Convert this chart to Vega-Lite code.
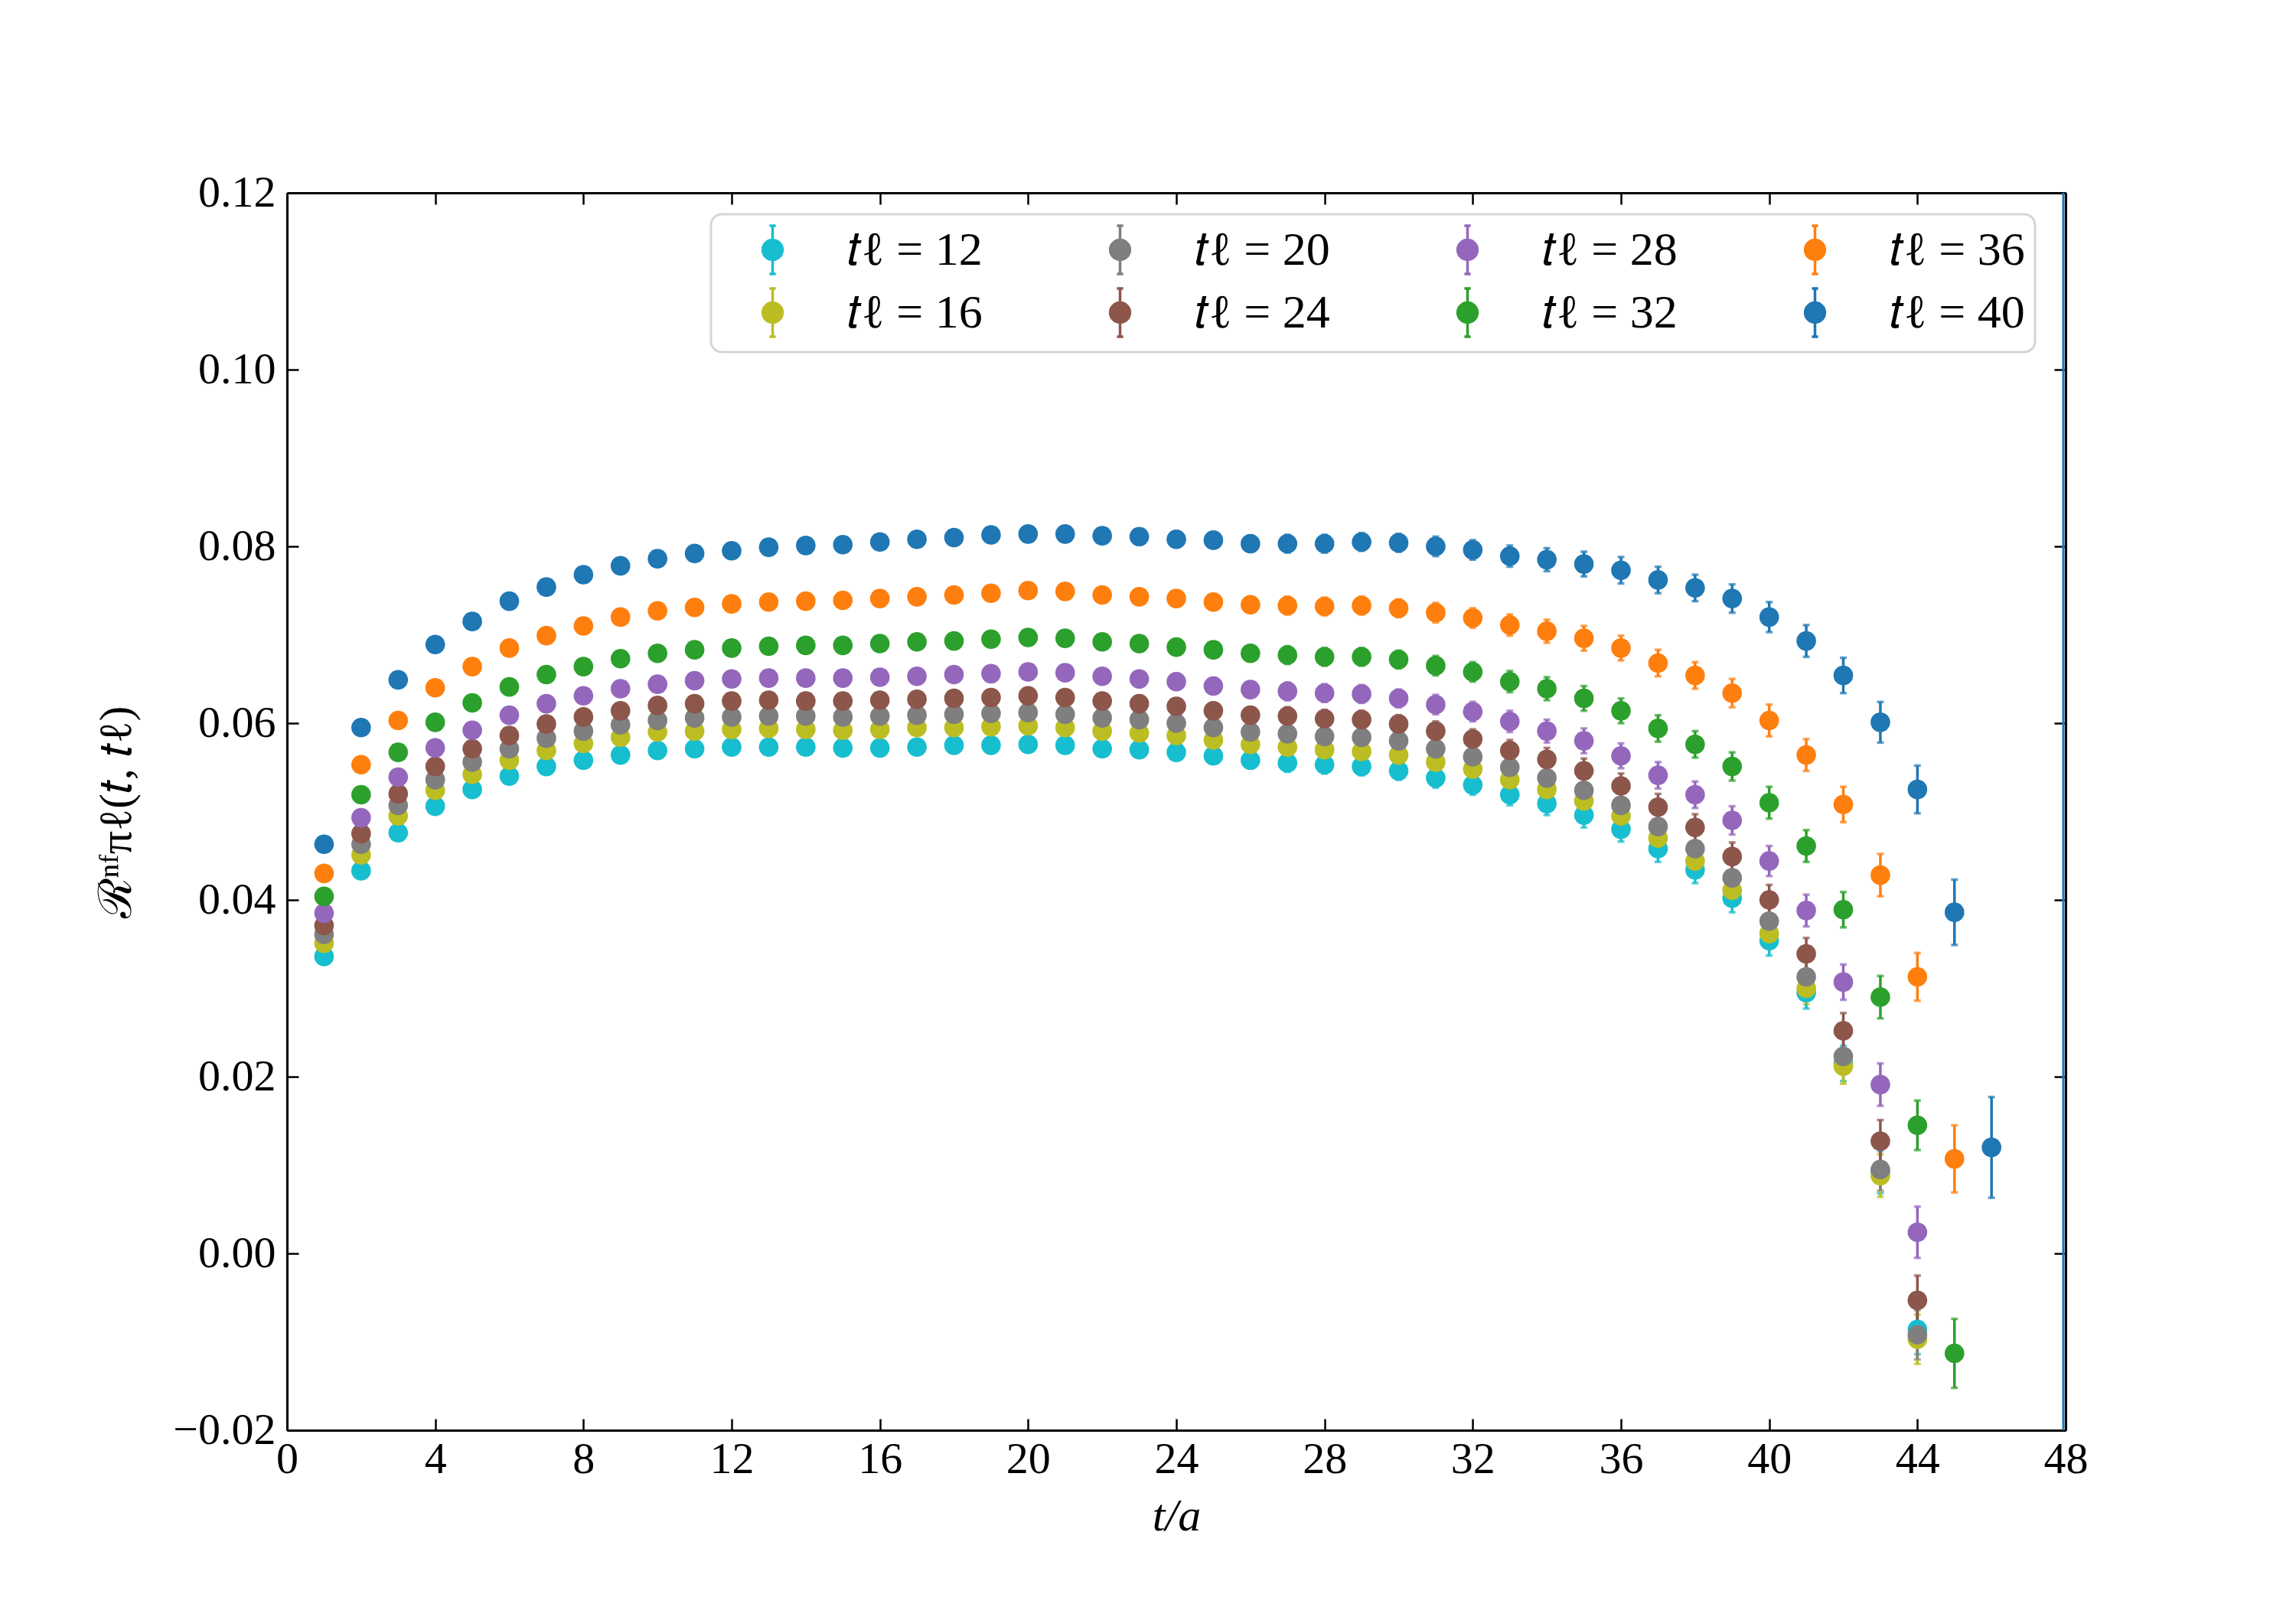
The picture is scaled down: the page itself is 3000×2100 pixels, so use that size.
{
  "$schema": "https://vega.github.io/schema/vega-lite/v6.json",
  "width": 2324,
  "height": 1617,
  "autosize": "none",
  "padding": {"left": 375, "top": 252, "right": 301, "bottom": 231},
  "background": "white",
  "config": {
    "view": {"stroke": null},
    "font": "Liberation Serif",
    "axis": {
      "domainColor": "black", "domainWidth": 3,
      "tickColor": "black", "tickWidth": 2.5, "tickSize": -15,
      "labelFont": "Liberation Serif", "labelFontSize": 58, "labelColor": "black", "labelFlush": false,
      "titleFont": "Liberation Serif", "titleFontSize": 60, "titleFontWeight": "normal", "titleColor": "black",
      "grid": false, "zindex": 1
    },
    "legend": {
      "orient": "none", "legendX": 554, "legendY": 28,
      "columns": 4, "padding": 13, "symbolOffset": 34, "labelOffset": 64,
      "columnPadding": 112, "rowPadding": 5, "labelLimit": 0,
      "labelFont": "Liberation Serif", "labelFontSize": 62, "labelColor": "black",
      "symbolSize": 3969,
      "symbolType": "M0,-1L0,1M-0.13,-1L0.13,-1M-0.13,1L0.13,1M0.41,0A0.41,0.41,0,1,1,-0.41,0A0.41,0.41,0,1,1,0.41,0Z",
      "strokeColor": "#d6d6d6", "strokeWidth": 3, "fillColor": "white", "cornerRadius": 14
    }
  },
  "data": {"values": [
    {"s":"12","t":1,"v":0.0336,"e":0.0002},{"s":"12","t":2,"v":0.0433,"e":0.0003},{"s":"12","t":3,"v":0.0476,"e":0.0003},{"s":"12","t":4,"v":0.0506,"e":0.0004},{"s":"12","t":5,"v":0.0525,"e":0.0004},{"s":"12","t":6,"v":0.0540,"e":0.0004},{"s":"12","t":7,"v":0.0551,"e":0.0005},{"s":"12","t":8,"v":0.0558,"e":0.0005},{"s":"12","t":9,"v":0.0564,"e":0.0005},{"s":"12","t":10,"v":0.0569,"e":0.0006},{"s":"12","t":11,"v":0.0571,"e":0.0006},{"s":"12","t":12,"v":0.0573,"e":0.0006},{"s":"12","t":13,"v":0.0573,"e":0.0006},{"s":"12","t":14,"v":0.0573,"e":0.0007},{"s":"12","t":15,"v":0.0572,"e":0.0007},{"s":"12","t":16,"v":0.0572,"e":0.0007},{"s":"12","t":17,"v":0.0573,"e":0.0007},{"s":"12","t":18,"v":0.0575,"e":0.0008},{"s":"12","t":19,"v":0.0575,"e":0.0008},{"s":"12","t":20,"v":0.0576,"e":0.0008},{"s":"12","t":21,"v":0.0575,"e":0.0008},{"s":"12","t":22,"v":0.0571,"e":0.0008},{"s":"12","t":23,"v":0.0570,"e":0.0009},{"s":"12","t":24,"v":0.0567,"e":0.0009},{"s":"12","t":25,"v":0.0563,"e":0.0009},{"s":"12","t":26,"v":0.0558,"e":0.0009},{"s":"12","t":27,"v":0.0555,"e":0.001},{"s":"12","t":28,"v":0.0553,"e":0.001},{"s":"12","t":29,"v":0.0551,"e":0.001},{"s":"12","t":30,"v":0.0546,"e":0.001},{"s":"12","t":31,"v":0.0538,"e":0.0011},{"s":"12","t":32,"v":0.0530,"e":0.0011},{"s":"12","t":33,"v":0.0519,"e":0.0012},{"s":"12","t":34,"v":0.0509,"e":0.0013},{"s":"12","t":35,"v":0.0496,"e":0.0014},{"s":"12","t":36,"v":0.0480,"e":0.0014},{"s":"12","t":37,"v":0.0458,"e":0.0015},{"s":"12","t":38,"v":0.0434,"e":0.0015},{"s":"12","t":39,"v":0.0402,"e":0.0016},{"s":"12","t":40,"v":0.0354,"e":0.0017},{"s":"12","t":41,"v":0.0295,"e":0.0018},{"s":"12","t":42,"v":0.0215,"e":0.002},{"s":"12","t":43,"v":0.0092,"e":0.0024},{"s":"12","t":44,"v":-0.0086,"e":0.0028},
    {"s":"16","t":1,"v":0.0351,"e":0.0002},{"s":"16","t":2,"v":0.0451,"e":0.0003},{"s":"16","t":3,"v":0.0495,"e":0.0003},{"s":"16","t":4,"v":0.0524,"e":0.0004},{"s":"16","t":5,"v":0.0542,"e":0.0004},{"s":"16","t":6,"v":0.0558,"e":0.0004},{"s":"16","t":7,"v":0.0569,"e":0.0005},{"s":"16","t":8,"v":0.0577,"e":0.0005},{"s":"16","t":9,"v":0.0584,"e":0.0005},{"s":"16","t":10,"v":0.0590,"e":0.0006},{"s":"16","t":11,"v":0.0591,"e":0.0006},{"s":"16","t":12,"v":0.0593,"e":0.0006},{"s":"16","t":13,"v":0.0594,"e":0.0006},{"s":"16","t":14,"v":0.0593,"e":0.0007},{"s":"16","t":15,"v":0.0592,"e":0.0007},{"s":"16","t":16,"v":0.0593,"e":0.0007},{"s":"16","t":17,"v":0.0595,"e":0.0007},{"s":"16","t":18,"v":0.0595,"e":0.0008},{"s":"16","t":19,"v":0.0596,"e":0.0008},{"s":"16","t":20,"v":0.0597,"e":0.0008},{"s":"16","t":21,"v":0.0595,"e":0.0008},{"s":"16","t":22,"v":0.0591,"e":0.0008},{"s":"16","t":23,"v":0.0589,"e":0.0009},{"s":"16","t":24,"v":0.0586,"e":0.0009},{"s":"16","t":25,"v":0.0581,"e":0.0009},{"s":"16","t":26,"v":0.0576,"e":0.0009},{"s":"16","t":27,"v":0.0573,"e":0.001},{"s":"16","t":28,"v":0.0570,"e":0.001},{"s":"16","t":29,"v":0.0568,"e":0.001},{"s":"16","t":30,"v":0.0564,"e":0.001},{"s":"16","t":31,"v":0.0556,"e":0.0011},{"s":"16","t":32,"v":0.0548,"e":0.0011},{"s":"16","t":33,"v":0.0536,"e":0.0012},{"s":"16","t":34,"v":0.0525,"e":0.0013},{"s":"16","t":35,"v":0.0512,"e":0.0014},{"s":"16","t":36,"v":0.0495,"e":0.0014},{"s":"16","t":37,"v":0.0470,"e":0.0015},{"s":"16","t":38,"v":0.0444,"e":0.0015},{"s":"16","t":39,"v":0.0411,"e":0.0016},{"s":"16","t":40,"v":0.0362,"e":0.0017},{"s":"16","t":41,"v":0.0300,"e":0.0018},{"s":"16","t":42,"v":0.0212,"e":0.002},{"s":"16","t":43,"v":0.0088,"e":0.0024},{"s":"16","t":44,"v":-0.0097,"e":0.0028},
    {"s":"20","t":1,"v":0.0361,"e":0.0002},{"s":"20","t":2,"v":0.0463,"e":0.0003},{"s":"20","t":3,"v":0.0507,"e":0.0003},{"s":"20","t":4,"v":0.0536,"e":0.0004},{"s":"20","t":5,"v":0.0556,"e":0.0004},{"s":"20","t":6,"v":0.0571,"e":0.0004},{"s":"20","t":7,"v":0.0583,"e":0.0005},{"s":"20","t":8,"v":0.0591,"e":0.0005},{"s":"20","t":9,"v":0.0598,"e":0.0005},{"s":"20","t":10,"v":0.0603,"e":0.0006},{"s":"20","t":11,"v":0.0606,"e":0.0006},{"s":"20","t":12,"v":0.0607,"e":0.0006},{"s":"20","t":13,"v":0.0608,"e":0.0006},{"s":"20","t":14,"v":0.0608,"e":0.0007},{"s":"20","t":15,"v":0.0607,"e":0.0007},{"s":"20","t":16,"v":0.0608,"e":0.0007},{"s":"20","t":17,"v":0.0609,"e":0.0007},{"s":"20","t":18,"v":0.0610,"e":0.0008},{"s":"20","t":19,"v":0.0611,"e":0.0008},{"s":"20","t":20,"v":0.0612,"e":0.0008},{"s":"20","t":21,"v":0.0610,"e":0.0008},{"s":"20","t":22,"v":0.0606,"e":0.0008},{"s":"20","t":23,"v":0.0604,"e":0.0009},{"s":"20","t":24,"v":0.0600,"e":0.0009},{"s":"20","t":25,"v":0.0595,"e":0.0009},{"s":"20","t":26,"v":0.0590,"e":0.0009},{"s":"20","t":27,"v":0.0588,"e":0.001},{"s":"20","t":28,"v":0.0585,"e":0.001},{"s":"20","t":29,"v":0.0584,"e":0.001},{"s":"20","t":30,"v":0.0580,"e":0.001},{"s":"20","t":31,"v":0.0571,"e":0.0011},{"s":"20","t":32,"v":0.0562,"e":0.0011},{"s":"20","t":33,"v":0.0550,"e":0.0012},{"s":"20","t":34,"v":0.0538,"e":0.0013},{"s":"20","t":35,"v":0.0524,"e":0.0014},{"s":"20","t":36,"v":0.0507,"e":0.0014},{"s":"20","t":37,"v":0.0483,"e":0.0015},{"s":"20","t":38,"v":0.0458,"e":0.0015},{"s":"20","t":39,"v":0.0425,"e":0.0016},{"s":"20","t":40,"v":0.0376,"e":0.0017},{"s":"20","t":41,"v":0.0313,"e":0.0018},{"s":"20","t":42,"v":0.0223,"e":0.002},{"s":"20","t":43,"v":0.0095,"e":0.0024},{"s":"20","t":44,"v":-0.0092,"e":0.0028},
    {"s":"24","t":1,"v":0.0371,"e":0.0002},{"s":"24","t":2,"v":0.0475,"e":0.0003},{"s":"24","t":3,"v":0.0520,"e":0.0003},{"s":"24","t":4,"v":0.0551,"e":0.0004},{"s":"24","t":5,"v":0.0571,"e":0.0004},{"s":"24","t":6,"v":0.0586,"e":0.0004},{"s":"24","t":7,"v":0.0599,"e":0.0005},{"s":"24","t":8,"v":0.0607,"e":0.0005},{"s":"24","t":9,"v":0.0614,"e":0.0005},{"s":"24","t":10,"v":0.0620,"e":0.0006},{"s":"24","t":11,"v":0.0622,"e":0.0006},{"s":"24","t":12,"v":0.0625,"e":0.0006},{"s":"24","t":13,"v":0.0626,"e":0.0006},{"s":"24","t":14,"v":0.0625,"e":0.0007},{"s":"24","t":15,"v":0.0625,"e":0.0007},{"s":"24","t":16,"v":0.0626,"e":0.0007},{"s":"24","t":17,"v":0.0627,"e":0.0007},{"s":"24","t":18,"v":0.0628,"e":0.0008},{"s":"24","t":19,"v":0.0629,"e":0.0008},{"s":"24","t":20,"v":0.0631,"e":0.0008},{"s":"24","t":21,"v":0.0629,"e":0.0008},{"s":"24","t":22,"v":0.0625,"e":0.0008},{"s":"24","t":23,"v":0.0622,"e":0.0009},{"s":"24","t":24,"v":0.0619,"e":0.0009},{"s":"24","t":25,"v":0.0614,"e":0.0009},{"s":"24","t":26,"v":0.0609,"e":0.0009},{"s":"24","t":27,"v":0.0608,"e":0.001},{"s":"24","t":28,"v":0.0605,"e":0.001},{"s":"24","t":29,"v":0.0604,"e":0.001},{"s":"24","t":30,"v":0.0599,"e":0.001},{"s":"24","t":31,"v":0.0591,"e":0.0011},{"s":"24","t":32,"v":0.0582,"e":0.0011},{"s":"24","t":33,"v":0.0569,"e":0.0012},{"s":"24","t":34,"v":0.0559,"e":0.0013},{"s":"24","t":35,"v":0.0546,"e":0.0014},{"s":"24","t":36,"v":0.0529,"e":0.0014},{"s":"24","t":37,"v":0.0505,"e":0.0015},{"s":"24","t":38,"v":0.0482,"e":0.0015},{"s":"24","t":39,"v":0.0449,"e":0.0016},{"s":"24","t":40,"v":0.0400,"e":0.0017},{"s":"24","t":41,"v":0.0339,"e":0.0018},{"s":"24","t":42,"v":0.0252,"e":0.002},{"s":"24","t":43,"v":0.0127,"e":0.0024},{"s":"24","t":44,"v":-0.0053,"e":0.0028},
    {"s":"28","t":1,"v":0.0385,"e":0.0002},{"s":"28","t":2,"v":0.0493,"e":0.0003},{"s":"28","t":3,"v":0.0539,"e":0.0003},{"s":"28","t":4,"v":0.0572,"e":0.0004},{"s":"28","t":5,"v":0.0592,"e":0.0004},{"s":"28","t":6,"v":0.0609,"e":0.0004},{"s":"28","t":7,"v":0.0622,"e":0.0005},{"s":"28","t":8,"v":0.0631,"e":0.0005},{"s":"28","t":9,"v":0.0639,"e":0.0005},{"s":"28","t":10,"v":0.0644,"e":0.0006},{"s":"28","t":11,"v":0.0648,"e":0.0006},{"s":"28","t":12,"v":0.0650,"e":0.0006},{"s":"28","t":13,"v":0.0651,"e":0.0006},{"s":"28","t":14,"v":0.0651,"e":0.0007},{"s":"28","t":15,"v":0.0651,"e":0.0007},{"s":"28","t":16,"v":0.0652,"e":0.0007},{"s":"28","t":17,"v":0.0653,"e":0.0007},{"s":"28","t":18,"v":0.0655,"e":0.0008},{"s":"28","t":19,"v":0.0656,"e":0.0008},{"s":"28","t":20,"v":0.0658,"e":0.0008},{"s":"28","t":21,"v":0.0657,"e":0.0008},{"s":"28","t":22,"v":0.0653,"e":0.0008},{"s":"28","t":23,"v":0.0650,"e":0.0009},{"s":"28","t":24,"v":0.0647,"e":0.0009},{"s":"28","t":25,"v":0.0642,"e":0.0009},{"s":"28","t":26,"v":0.0638,"e":0.0009},{"s":"28","t":27,"v":0.0636,"e":0.001},{"s":"28","t":28,"v":0.0634,"e":0.001},{"s":"28","t":29,"v":0.0633,"e":0.001},{"s":"28","t":30,"v":0.0628,"e":0.001},{"s":"28","t":31,"v":0.0621,"e":0.0011},{"s":"28","t":32,"v":0.0613,"e":0.0011},{"s":"28","t":33,"v":0.0602,"e":0.0012},{"s":"28","t":34,"v":0.0591,"e":0.0013},{"s":"28","t":35,"v":0.0580,"e":0.0014},{"s":"28","t":36,"v":0.0563,"e":0.0014},{"s":"28","t":37,"v":0.0541,"e":0.0015},{"s":"28","t":38,"v":0.0519,"e":0.0015},{"s":"28","t":39,"v":0.0490,"e":0.0016},{"s":"28","t":40,"v":0.0444,"e":0.0017},{"s":"28","t":41,"v":0.0388,"e":0.0018},{"s":"28","t":42,"v":0.0307,"e":0.002},{"s":"28","t":43,"v":0.0191,"e":0.0024},{"s":"28","t":44,"v":0.0024,"e":0.0029},
    {"s":"32","t":1,"v":0.0404,"e":0.0002},{"s":"32","t":2,"v":0.0519,"e":0.0003},{"s":"32","t":3,"v":0.0567,"e":0.0003},{"s":"32","t":4,"v":0.0601,"e":0.0004},{"s":"32","t":5,"v":0.0623,"e":0.0004},{"s":"32","t":6,"v":0.0641,"e":0.0004},{"s":"32","t":7,"v":0.0655,"e":0.0005},{"s":"32","t":8,"v":0.0664,"e":0.0005},{"s":"32","t":9,"v":0.0673,"e":0.0005},{"s":"32","t":10,"v":0.0679,"e":0.0006},{"s":"32","t":11,"v":0.0683,"e":0.0006},{"s":"32","t":12,"v":0.0685,"e":0.0006},{"s":"32","t":13,"v":0.0687,"e":0.0006},{"s":"32","t":14,"v":0.0688,"e":0.0007},{"s":"32","t":15,"v":0.0688,"e":0.0007},{"s":"32","t":16,"v":0.0690,"e":0.0007},{"s":"32","t":17,"v":0.0692,"e":0.0007},{"s":"32","t":18,"v":0.0693,"e":0.0008},{"s":"32","t":19,"v":0.0695,"e":0.0008},{"s":"32","t":20,"v":0.0697,"e":0.0008},{"s":"32","t":21,"v":0.0696,"e":0.0008},{"s":"32","t":22,"v":0.0692,"e":0.0008},{"s":"32","t":23,"v":0.0690,"e":0.0009},{"s":"32","t":24,"v":0.0686,"e":0.0009},{"s":"32","t":25,"v":0.0683,"e":0.0009},{"s":"32","t":26,"v":0.0679,"e":0.0009},{"s":"32","t":27,"v":0.0677,"e":0.001},{"s":"32","t":28,"v":0.0675,"e":0.001},{"s":"32","t":29,"v":0.0675,"e":0.001},{"s":"32","t":30,"v":0.0672,"e":0.001},{"s":"32","t":31,"v":0.0665,"e":0.0011},{"s":"32","t":32,"v":0.0658,"e":0.0011},{"s":"32","t":33,"v":0.0647,"e":0.0012},{"s":"32","t":34,"v":0.0639,"e":0.0013},{"s":"32","t":35,"v":0.0628,"e":0.0014},{"s":"32","t":36,"v":0.0614,"e":0.0014},{"s":"32","t":37,"v":0.0594,"e":0.0015},{"s":"32","t":38,"v":0.0576,"e":0.0015},{"s":"32","t":39,"v":0.0551,"e":0.0016},{"s":"32","t":40,"v":0.0510,"e":0.0018},{"s":"32","t":41,"v":0.0461,"e":0.0018},{"s":"32","t":42,"v":0.0389,"e":0.002},{"s":"32","t":43,"v":0.0290,"e":0.0024},{"s":"32","t":44,"v":0.0145,"e":0.0028},{"s":"32","t":45,"v":-0.0113,"e":0.0039},
    {"s":"36","t":1,"v":0.0430,"e":0.0002},{"s":"36","t":2,"v":0.0553,"e":0.0003},{"s":"36","t":3,"v":0.0603,"e":0.0003},{"s":"36","t":4,"v":0.0640,"e":0.0004},{"s":"36","t":5,"v":0.0664,"e":0.0004},{"s":"36","t":6,"v":0.0685,"e":0.0004},{"s":"36","t":7,"v":0.0699,"e":0.0005},{"s":"36","t":8,"v":0.0710,"e":0.0005},{"s":"36","t":9,"v":0.0720,"e":0.0005},{"s":"36","t":10,"v":0.0727,"e":0.0006},{"s":"36","t":11,"v":0.0731,"e":0.0006},{"s":"36","t":12,"v":0.0735,"e":0.0006},{"s":"36","t":13,"v":0.0737,"e":0.0006},{"s":"36","t":14,"v":0.0738,"e":0.0007},{"s":"36","t":15,"v":0.0739,"e":0.0007},{"s":"36","t":16,"v":0.0741,"e":0.0007},{"s":"36","t":17,"v":0.0743,"e":0.0007},{"s":"36","t":18,"v":0.0745,"e":0.0008},{"s":"36","t":19,"v":0.0747,"e":0.0008},{"s":"36","t":20,"v":0.0750,"e":0.0008},{"s":"36","t":21,"v":0.0749,"e":0.0008},{"s":"36","t":22,"v":0.0745,"e":0.0008},{"s":"36","t":23,"v":0.0743,"e":0.0009},{"s":"36","t":24,"v":0.0741,"e":0.0009},{"s":"36","t":25,"v":0.0737,"e":0.0009},{"s":"36","t":26,"v":0.0734,"e":0.0009},{"s":"36","t":27,"v":0.0733,"e":0.001},{"s":"36","t":28,"v":0.0732,"e":0.001},{"s":"36","t":29,"v":0.0733,"e":0.001},{"s":"36","t":30,"v":0.0730,"e":0.001},{"s":"36","t":31,"v":0.0725,"e":0.0011},{"s":"36","t":32,"v":0.0719,"e":0.0011},{"s":"36","t":33,"v":0.0711,"e":0.0012},{"s":"36","t":34,"v":0.0704,"e":0.0013},{"s":"36","t":35,"v":0.0696,"e":0.0014},{"s":"36","t":36,"v":0.0685,"e":0.0014},{"s":"36","t":37,"v":0.0668,"e":0.0015},{"s":"36","t":38,"v":0.0654,"e":0.0015},{"s":"36","t":39,"v":0.0634,"e":0.0016},{"s":"36","t":40,"v":0.0603,"e":0.0018},{"s":"36","t":41,"v":0.0564,"e":0.0018},{"s":"36","t":42,"v":0.0508,"e":0.002},{"s":"36","t":43,"v":0.0428,"e":0.0024},{"s":"36","t":44,"v":0.0313,"e":0.0027},{"s":"36","t":45,"v":0.0107,"e":0.0038},
    {"s":"40","t":1,"v":0.0463,"e":0.0002},{"s":"40","t":2,"v":0.0595,"e":0.0003},{"s":"40","t":3,"v":0.0649,"e":0.0003},{"s":"40","t":4,"v":0.0689,"e":0.0004},{"s":"40","t":5,"v":0.0715,"e":0.0004},{"s":"40","t":6,"v":0.0738,"e":0.0004},{"s":"40","t":7,"v":0.0754,"e":0.0005},{"s":"40","t":8,"v":0.0768,"e":0.0005},{"s":"40","t":9,"v":0.0778,"e":0.0005},{"s":"40","t":10,"v":0.0786,"e":0.0006},{"s":"40","t":11,"v":0.0792,"e":0.0006},{"s":"40","t":12,"v":0.0795,"e":0.0006},{"s":"40","t":13,"v":0.0799,"e":0.0006},{"s":"40","t":14,"v":0.0801,"e":0.0007},{"s":"40","t":15,"v":0.0802,"e":0.0007},{"s":"40","t":16,"v":0.0805,"e":0.0007},{"s":"40","t":17,"v":0.0808,"e":0.0007},{"s":"40","t":18,"v":0.0810,"e":0.0008},{"s":"40","t":19,"v":0.0813,"e":0.0008},{"s":"40","t":20,"v":0.0814,"e":0.0008},{"s":"40","t":21,"v":0.0814,"e":0.0008},{"s":"40","t":22,"v":0.0812,"e":0.0008},{"s":"40","t":23,"v":0.0811,"e":0.0009},{"s":"40","t":24,"v":0.0808,"e":0.0009},{"s":"40","t":25,"v":0.0807,"e":0.0009},{"s":"40","t":26,"v":0.0803,"e":0.0009},{"s":"40","t":27,"v":0.0803,"e":0.001},{"s":"40","t":28,"v":0.0803,"e":0.001},{"s":"40","t":29,"v":0.0805,"e":0.001},{"s":"40","t":30,"v":0.0804,"e":0.001},{"s":"40","t":31,"v":0.0800,"e":0.0011},{"s":"40","t":32,"v":0.0796,"e":0.0011},{"s":"40","t":33,"v":0.0789,"e":0.0012},{"s":"40","t":34,"v":0.0785,"e":0.0013},{"s":"40","t":35,"v":0.0780,"e":0.0014},{"s":"40","t":36,"v":0.0773,"e":0.0015},{"s":"40","t":37,"v":0.0762,"e":0.0015},{"s":"40","t":38,"v":0.0753,"e":0.0015},{"s":"40","t":39,"v":0.0741,"e":0.0016},{"s":"40","t":40,"v":0.0720,"e":0.0017},{"s":"40","t":41,"v":0.0693,"e":0.0018},{"s":"40","t":42,"v":0.0654,"e":0.002},{"s":"40","t":43,"v":0.0601,"e":0.0023},{"s":"40","t":44,"v":0.0525,"e":0.0027},{"s":"40","t":45,"v":0.0386,"e":0.0037},{"s":"40","t":46,"v":0.0120,"e":0.0057}
  ]},
  "layer": [
    {
      "mark": {"type": "errorbar", "thickness": 3.5, "ticks": {"size": 9}},
      "encoding": {
        "x": {"field": "t", "type": "quantitative", "scale": {"domain": [0, 48], "nice": false, "zero": false},
              "axis": {"orient": "bottom", "values": [0,4,8,12,16,20,24,28,32,36,40,44,48], "format": "d", "labelPadding": 24, "title": "t/a", "titleFontStyle": "italic", "titlePadding": 16}},
        "y": {"field": "v", "type": "quantitative", "scale": {"domain": [-0.02, 0.12], "nice": false, "zero": false},
              "axis": {"orient": "left", "values": [-0.02,0,0.02,0.04,0.06,0.08,0.1,0.12], "format": ".2f", "labelPadding": 30, "title": "ℛⁿᶠπℓ(𝑡, 𝑡ℓ)", "titlePadding": 42}},
        "yError": {"field": "e"},
        "color": {"field": "s", "type": "nominal",
                  "scale": {"domain": ["12","16","20","24","28","32","36","40"], "range": ["#17becf","#bcbd22","#7f7f7f","#8c564b","#9467bd","#2ca02c","#ff7f0e","#1f77b4"]},
                  "legend": {"title": null, "labelExpr": "'𝑡ℓ = ' + datum.label",
                             "encode": {"symbols": {"update": {"fill": {"scale": "color", "field": "value"}, "stroke": {"scale": "color", "field": "value"}, "strokeWidth": {"value": 3.5}, "opacity": {"value": 1}}}}}}
      }
    },
    {
      "mark": {"type": "circle", "size": 656, "opacity": 1},
      "encoding": {
        "x": {"field": "t", "type": "quantitative", "axis": null},
        "y": {"field": "v", "type": "quantitative", "axis": null},
        "color": {"field": "s", "type": "nominal"}
      }
    },
    {
      "data": {"values": [{"t": 48}]},
      "mark": {"type": "rule", "color": "#1f77b4", "strokeWidth": 3, "xOffset": -3},
      "encoding": {"x": {"field": "t", "type": "quantitative", "axis": null}}
    },
    {
      "mark": {"type": "circle", "opacity": 0},
      "encoding": {
        "x": {"field": "t", "type": "quantitative",
              "axis": {"orient": "top", "values": [0,4,8,12,16,20,24,28,32,36,40,44,48], "labels": false, "title": null}},
        "y": {"field": "v", "type": "quantitative",
              "axis": {"orient": "right", "values": [-0.02,0,0.02,0.04,0.06,0.08,0.1,0.12], "labels": false, "title": null}}
      }
    }
  ],
  "resolve": {"axis": {"x": "independent", "y": "independent"}}
}
